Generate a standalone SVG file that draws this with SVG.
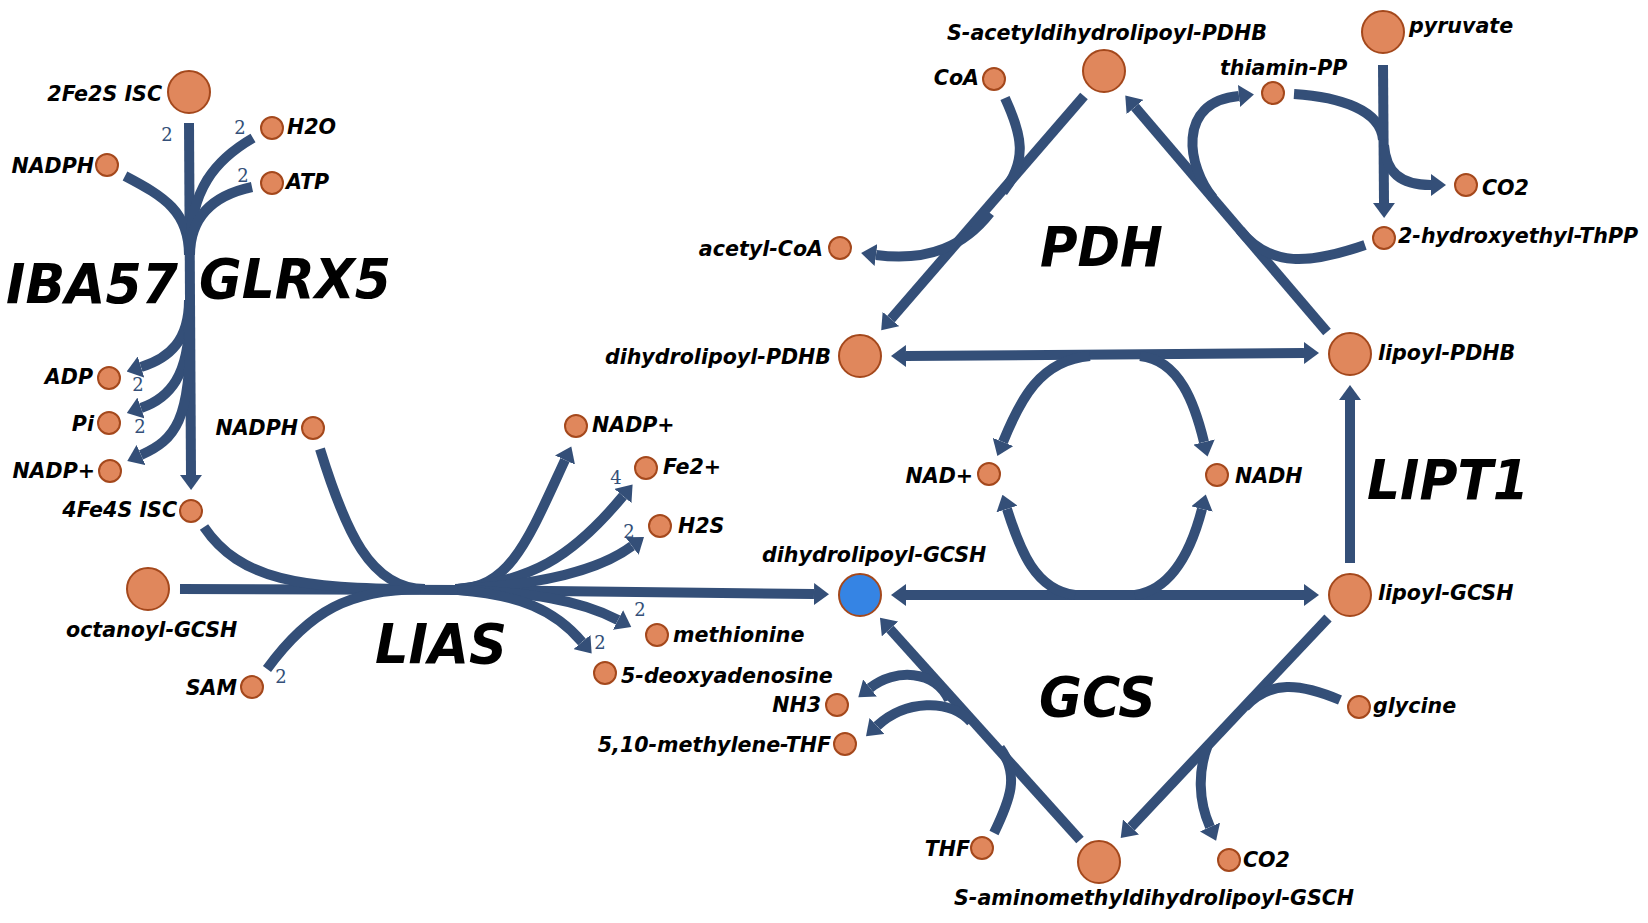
<svg xmlns="http://www.w3.org/2000/svg" width="1648" height="923" viewBox="0 0 1648 923">
<defs>
<style>
.c{fill:none;stroke:#344f78;stroke-width:10;}
.a{marker-end:url(#ah);}
.b{marker-start:url(#ah);marker-end:url(#ah);}
.m{fill:#e0875c;stroke:#a4481c;stroke-width:2;}
.blue{fill:#3584e4;stroke:#a4481c;stroke-width:2;}
.t{font-family:"DejaVu Sans","Liberation Sans",sans-serif;font-weight:bold;font-style:italic;font-size:20.6px;fill:#000;}
.e{text-anchor:end;}
.big{font-family:"DejaVu Sans","Liberation Sans",sans-serif;font-weight:bold;font-style:italic;font-size:56px;fill:#000;}
.s{font-family:"DejaVu Serif","Liberation Serif",serif;font-size:18px;fill:#344f78;text-anchor:middle;}
</style>
<marker id="ah" markerUnits="userSpaceOnUse" markerWidth="15" markerHeight="22" refX="0" refY="11" orient="auto-start-reverse" viewBox="0 0 15 22">
<path d="M0,0 L15,11 L0,22 z" fill="#344f78"/>
</marker>
</defs>
<rect width="1648" height="923" fill="#ffffff"/>

<g id="connectors">
<!-- IBA57 / GLRX5 -->
<path class="c a" d="M189,123 L191,475"/>
<path class="c" d="M125,176 C165,197 189,212 189,255"/>
<path class="c" d="M253,138 C215,160 190,190 190,250"/>
<path class="c" d="M252,187 C215,195 190,215 190,255"/>
<path class="c a" d="M189,300 C189,340 170,358 141,367"/>
<path class="c a" d="M189,320 C189,375 170,398 141,408"/>
<path class="c a" d="M190,330 C191,420 175,440 141,455"/>
<!-- LIAS -->
<path class="c a" d="M180,589 L460,590 L814,594"/>
<path class="c" d="M204,527 C240,580 300,589 420,589"/>
<path class="c" d="M320,449 C345,530 370,589 425,589"/>
<path class="c" d="M267,669 C310,610 350,590 420,589"/>
<path class="c a" d="M455,589 C510,589 528,540 565,460"/>
<path class="c a" d="M458,589 C530,580 570,560 623,496"/>
<path class="c a" d="M458,589 C540,585 600,570 632,546"/>
<path class="c a" d="M458,590 C530,592 580,600 618,620"/>
<path class="c a" d="M458,590 C520,595 555,610 582,642"/>
<!-- PDH left -->
<path class="c a" d="M1084,96 L891,319"/>
<path class="c" d="M1005,98 C1022,135 1028,160 1003,192"/>
<path class="c a" d="M990,213 C965,245 930,262 876,255"/>
<!-- PDH right -->
<path class="c a" d="M1327,332 L1135,107"/>
<path class="c" d="M1365,245 C1310,264 1270,268 1240,230"/>
<path class="c a" d="M1213,198 C1188,168 1175,102 1239,96"/>
<!-- pyruvate decarboxylation -->
<path class="c a" d="M1383,65 L1384,203"/>
<path class="c" d="M1294,94 C1340,97 1381,110 1383,140"/>
<path class="c a" d="M1384,145 C1386,172 1400,185 1431,185"/>
<!-- top bidirectional with NAD+/NADH -->
<path class="c b" d="M906,356 L1304,353"/>
<path class="c a" d="M1090,356 C1040,360 1020,400 1003,442"/>
<path class="c a" d="M1140,356 C1180,360 1195,405 1204,442"/>
<!-- bottom bidirectional -->
<path class="c b" d="M906,595 L1304,595"/>
<path class="c a" d="M1075,595 C1035,590 1020,550 1007,509"/>
<path class="c a" d="M1135,595 C1170,590 1190,555 1202,509"/>
<!-- LIPT1 -->
<path class="c a" d="M1350,563 L1350,400"/>
<!-- GCS left -->
<path class="c a" d="M1080,840 L890,629"/>
<path class="c" d="M994,833 C1010,800 1020,775 1000,748"/>
<path class="c a" d="M949,700 C935,670 895,668 870,688"/>
<path class="c a" d="M971,722 C950,698 905,700 877,726"/>
<!-- GCS right -->
<path class="c a" d="M1328,618 L1131,827"/>
<path class="c" d="M1340,700 C1300,683 1270,680 1245,707"/>
<path class="c a" d="M1208,745 C1198,770 1198,800 1210,827"/>
</g>

<g id="stoichiometry">
<text class="s" x="167" y="141">2</text>
<text class="s" x="240" y="134">2</text>
<text class="s" x="243" y="182">2</text>
<text class="s" x="138" y="391">2</text>
<text class="s" x="140" y="433">2</text>
<text class="s" x="281" y="683">2</text>
<text class="s" x="616" y="484">4</text>
<text class="s" x="629" y="538">2</text>
<text class="s" x="640" y="616">2</text>
<text class="s" x="600" y="649">2</text>
</g>

<g id="enzymes">
<text class="big" x="6" y="303" textLength="172" lengthAdjust="spacingAndGlyphs">IBA57</text>
<text class="big" x="199" y="298" textLength="192" lengthAdjust="spacingAndGlyphs">GLRX5</text>
<text class="big" x="375" y="663" textLength="132" lengthAdjust="spacingAndGlyphs">LIAS</text>
<text class="big" x="1040" y="266" textLength="123" lengthAdjust="spacingAndGlyphs">PDH</text>
<text class="big" x="1367" y="499" textLength="162" lengthAdjust="spacingAndGlyphs">LIPT1</text>
<text class="big" x="1039" y="716" textLength="117" lengthAdjust="spacingAndGlyphs">GCS</text>
</g>

<g id="n_2fe2s"><circle class="m" cx="189" cy="92" r="21"/><text class="t e" x="162" y="101">2Fe2S ISC</text></g>
<g id="n_h2o"><circle class="m" cx="272" cy="128" r="11"/><text class="t" x="287" y="134">H2O</text></g>
<g id="n_atp"><circle class="m" cx="272" cy="183" r="11"/><text class="t" x="286" y="189">ATP</text></g>
<g id="n_nadph1"><circle class="m" cx="107" cy="165" r="11"/><text class="t e" x="94" y="173">NADPH</text></g>
<g id="n_adp"><circle class="m" cx="109" cy="378" r="11"/><text class="t e" x="93" y="384">ADP</text></g>
<g id="n_pi"><circle class="m" cx="109" cy="423" r="11"/><text class="t e" x="94" y="431">Pi</text></g>
<g id="n_nadp1"><circle class="m" cx="110" cy="471" r="11"/><text class="t e" x="95" y="478">NADP+</text></g>
<g id="n_4fe4s"><circle class="m" cx="191" cy="511" r="11"/><text class="t e" x="177" y="517">4Fe4S ISC</text></g>
<g id="n_nadph2"><circle class="m" cx="313" cy="428" r="11"/><text class="t e" x="298" y="435">NADPH</text></g>
<g id="n_octanoyl"><circle class="m" cx="148" cy="589" r="21"/><text class="t" x="66" y="637">octanoyl-GCSH</text></g>
<g id="n_sam"><circle class="m" cx="252" cy="687" r="11"/><text class="t e" x="237" y="695">SAM</text></g>
<g id="n_nadp2"><circle class="m" cx="576" cy="426" r="11"/><text class="t" x="592" y="432">NADP+</text></g>
<g id="n_fe2"><circle class="m" cx="646" cy="468" r="11"/><text class="t" x="663" y="474">Fe2+</text></g>
<g id="n_h2s"><circle class="m" cx="660" cy="526" r="11"/><text class="t" x="678" y="533">H2S</text></g>
<g id="n_met"><circle class="m" cx="657" cy="635" r="11"/><text class="t" x="673" y="642">methionine</text></g>
<g id="n_5da"><circle class="m" cx="605" cy="673" r="11"/><text class="t" x="621" y="683">5-deoxyadenosine</text></g>
<g id="n_dhl_gcsh"><circle class="blue" cx="860" cy="595" r="21"/><text class="t" x="762" y="562">dihydrolipoyl-GCSH</text></g>
<g id="n_coa"><circle class="m" cx="994" cy="79" r="11"/><text class="t e" x="979" y="85">CoA</text></g>
<g id="n_sacetyl"><circle class="m" cx="1104" cy="71" r="21"/><text class="t" x="947" y="40">S-acetyldihydrolipoyl-PDHB</text></g>
<g id="n_acetylcoa"><circle class="m" cx="840" cy="248" r="11"/><text class="t e" x="823" y="256">acetyl-CoA</text></g>
<g id="n_dhl_pdhb"><circle class="m" cx="860" cy="356" r="21"/><text class="t e" x="831" y="364">dihydrolipoyl-PDHB</text></g>
<g id="n_thiamin"><circle class="m" cx="1273" cy="93" r="11"/><text class="t" x="1220" y="75">thiamin-PP</text></g>
<g id="n_pyruvate"><circle class="m" cx="1383" cy="32" r="21"/><text class="t" x="1409" y="33">pyruvate</text></g>
<g id="n_co2a"><circle class="m" cx="1466" cy="185" r="11"/><text class="t" x="1482" y="195">CO2</text></g>
<g id="n_hethpp"><circle class="m" cx="1384" cy="238" r="11"/><text class="t" x="1398" y="243">2-hydroxyethyl-ThPP</text></g>
<g id="n_lip_pdhb"><circle class="m" cx="1350" cy="354" r="21"/><text class="t" x="1378" y="360">lipoyl-PDHB</text></g>
<g id="n_nad"><circle class="m" cx="989" cy="474" r="11"/><text class="t e" x="973" y="483">NAD+</text></g>
<g id="n_nadh"><circle class="m" cx="1217" cy="475" r="11"/><text class="t" x="1235" y="483">NADH</text></g>
<g id="n_lip_gcsh"><circle class="m" cx="1350" cy="595" r="21"/><text class="t" x="1378" y="600">lipoyl-GCSH</text></g>
<g id="n_glycine"><circle class="m" cx="1359" cy="707" r="11"/><text class="t" x="1373" y="713">glycine</text></g>
<g id="n_nh3"><circle class="m" cx="837" cy="705" r="11"/><text class="t e" x="821" y="712">NH3</text></g>
<g id="n_mthf"><circle class="m" cx="845" cy="744" r="11"/><text class="t e" x="831" y="752">5,10-methylene-THF</text></g>
<g id="n_thf"><circle class="m" cx="982" cy="848" r="11"/><text class="t e" x="970" y="856">THF</text></g>
<g id="n_samdl"><circle class="m" cx="1099" cy="862" r="21"/><text class="t" x="954" y="905">S-aminomethyldihydrolipoyl-GSCH</text></g>
<g id="n_co2b"><circle class="m" cx="1229" cy="860" r="11"/><text class="t" x="1243" y="867">CO2</text></g>
</svg>
